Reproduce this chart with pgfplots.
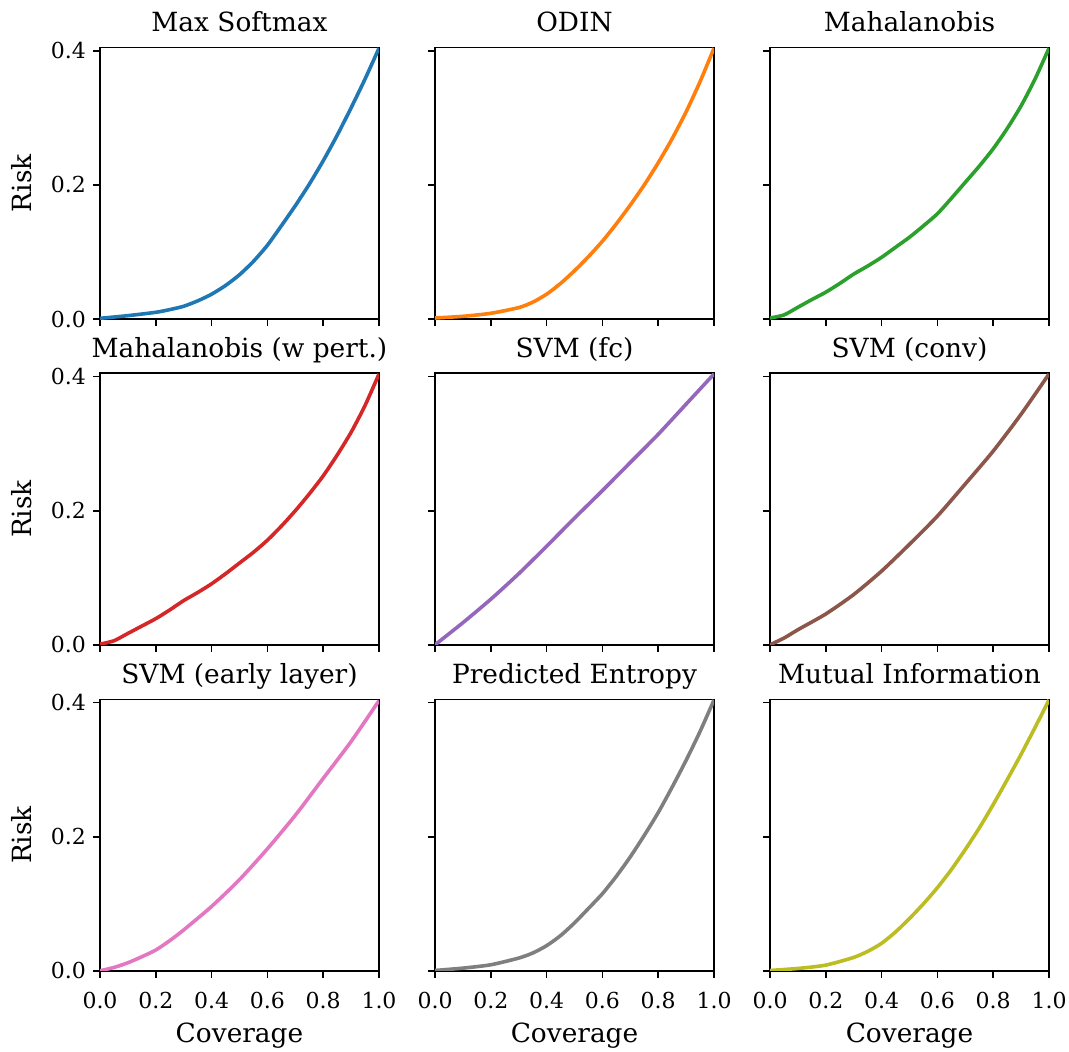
\documentclass[border=0pt]{standalone}
\usepackage{fontspec}
\setmainfont{DejaVu Serif}
\usepackage{pgfplots}
\pgfplotsset{compat=1.18}
\definecolor{c0}{HTML}{1F77B4}
\definecolor{c1}{HTML}{FF7F0E}
\definecolor{c2}{HTML}{2CA02C}
\definecolor{c3}{HTML}{D62728}
\definecolor{c4}{HTML}{9467BD}
\definecolor{c5}{HTML}{8C564B}
\definecolor{c6}{HTML}{E377C2}
\definecolor{c7}{HTML}{7F7F7F}
\definecolor{c8}{HTML}{BCBD22}
\pgfplotsset{
  panel/.style={
    width=139.5pt, height=135.75pt, scale only axis, anchor=north west,
    xmin=0, xmax=1, ymin=0, ymax=0.405,
    xtick={0,0.2,0.4,0.6,0.8,1}, ytick={0,0.2,0.4},
    tick align=outside, xtick pos=left, ytick pos=left,
    major tick length=3.5pt,
    tick style={line width=0.8pt, black},
    axis line style={line width=0.8pt},
    ticklabel style={font=\fontsize{11}{13}\selectfont},
    xticklabel style={yshift=-3.5pt},
    /pgf/number format/fixed, /pgf/number format/fixed zerofill,
    /pgf/number format/precision=1, /pgf/number format/assume math mode=true,
    title style={font=\fontsize{13.2}{15}\selectfont, anchor=base, at={(0.5,1)}, yshift=1.9pt, inner sep=0pt},
    xlabel style={font=\fontsize{13.2}{15}\selectfont, at={(axis description cs:0.5,0)}, anchor=base, yshift=-36pt, inner sep=0pt},
    ylabel style={font=\fontsize{13.2}{15}\selectfont, at={(axis description cs:0,0.5)}, anchor=center, yshift=39pt},
  },
  noxl/.style={xticklabels={}},
  noyl/.style={yticklabels={}},
  cur/.style={line width=1.8pt, line join=round, smooth, tension=0.4},
}
\begin{document}
\begin{tikzpicture}
\useasboundingbox (0,0) rectangle (534.5pt,-526pt);
% Row 1
\begin{axis}[panel, noxl, at={(50pt,-23.75pt)}, title={Max Softmax}, ylabel={Risk}]
\addplot[cur, c0] coordinates {(0,0.001) (0.1,0.005) (0.2,0.01) (0.25,0.014) (0.3,0.019) (0.35,0.027) (0.4,0.037) (0.45,0.05) (0.5,0.066) (0.55,0.086) (0.6,0.11) (0.65,0.139) (0.7,0.169) (0.75,0.201) (0.8,0.236) (0.85,0.274) (0.9,0.315) (0.95,0.358) (1,0.404)};
\end{axis}
\begin{axis}[panel, noxl, noyl, at={(217.5pt,-23.75pt)}, title={ODIN}]
\addplot[cur, c1] coordinates {(0,0.0015) (0.1,0.004) (0.2,0.0085) (0.3,0.017) (0.35,0.025) (0.4,0.037) (0.45,0.053) (0.5,0.072) (0.55,0.093) (0.6,0.116) (0.65,0.142) (0.7,0.17) (0.75,0.2) (0.8,0.233) (0.85,0.269) (0.9,0.309) (0.95,0.354) (1,0.404)};
\end{axis}
\begin{axis}[panel, noxl, noyl, at={(385pt,-23.75pt)}, title={Mahalanobis}]
\addplot[cur, c2] coordinates {(0,0.0015) (0.05,0.006) (0.1,0.0175) (0.15,0.029) (0.2,0.04) (0.25,0.053) (0.3,0.067) (0.35,0.079) (0.4,0.092) (0.45,0.107) (0.5,0.122) (0.55,0.139) (0.6,0.157) (0.65,0.18) (0.7,0.204) (0.75,0.228) (0.8,0.254) (0.85,0.284) (0.9,0.318) (0.95,0.358) (1,0.404)};
\end{axis}
% Row 2
\begin{axis}[panel, noxl, at={(50pt,-186.65pt)}, title={Mahalanobis (w pert.)}, ylabel={Risk}]
\addplot[cur, c3] coordinates {(0,0.001) (0.05,0.006) (0.1,0.017) (0.15,0.028) (0.2,0.039) (0.25,0.052) (0.3,0.066) (0.35,0.078) (0.4,0.091) (0.45,0.106) (0.5,0.122) (0.55,0.138) (0.6,0.156) (0.65,0.177) (0.7,0.2) (0.75,0.225) (0.8,0.252) (0.85,0.283) (0.9,0.317) (0.95,0.357) (1,0.404)};
\end{axis}
\begin{axis}[panel, noxl, noyl, at={(217.5pt,-186.65pt)}, title={SVM (fc)}]
\addplot[cur, c4] coordinates {(0,0) (0.1,0.033) (0.2,0.068) (0.3,0.106) (0.4,0.147) (0.5,0.189) (0.6,0.23) (0.7,0.272) (0.8,0.314) (0.9,0.359) (1,0.404)};
\end{axis}
\begin{axis}[panel, noxl, noyl, at={(385pt,-186.65pt)}, title={SVM (conv)}]
\addplot[cur, c5] coordinates {(0,0) (0.05,0.01) (0.1,0.0225) (0.2,0.046) (0.3,0.075) (0.4,0.11) (0.5,0.15) (0.6,0.192) (0.7,0.24) (0.8,0.289) (0.9,0.344) (1,0.404)};
\end{axis}
% Row 3
\begin{axis}[panel, at={(50pt,-349.65pt)}, title={SVM (early layer)}, ylabel={Risk}, xlabel={Coverage}]
\addplot[cur, c6] coordinates {(0,0) (0.05,0.005) (0.1,0.012) (0.15,0.021) (0.2,0.031) (0.25,0.045) (0.3,0.061) (0.4,0.096) (0.5,0.136) (0.6,0.182) (0.7,0.232) (0.8,0.287) (0.9,0.342) (1,0.403)};
\end{axis}
\begin{axis}[panel, noyl, at={(217.5pt,-349.65pt)}, title={Predicted Entropy}, xlabel={Coverage}]
\addplot[cur, c7] coordinates {(0,0.0005) (0.1,0.004) (0.2,0.009) (0.3,0.019) (0.35,0.0265) (0.4,0.0375) (0.45,0.0525) (0.5,0.0715) (0.55,0.093) (0.6,0.115) (0.65,0.141) (0.7,0.17) (0.75,0.202) (0.8,0.236) (0.85,0.274) (0.9,0.314) (0.95,0.357) (1,0.404)};
\end{axis}
\begin{axis}[panel, noyl, at={(385pt,-349.65pt)}, title={Mutual Information}, xlabel={Coverage}]
\addplot[cur, c8] coordinates {(0,0.0005) (0.1,0.0035) (0.2,0.0085) (0.3,0.02) (0.35,0.029) (0.4,0.041) (0.45,0.058) (0.5,0.078) (0.55,0.1) (0.6,0.124) (0.65,0.151) (0.7,0.181) (0.75,0.213) (0.8,0.248) (0.85,0.285) (0.9,0.323) (0.95,0.363) (1,0.404)};
\end{axis}
\end{tikzpicture}
\end{document}
